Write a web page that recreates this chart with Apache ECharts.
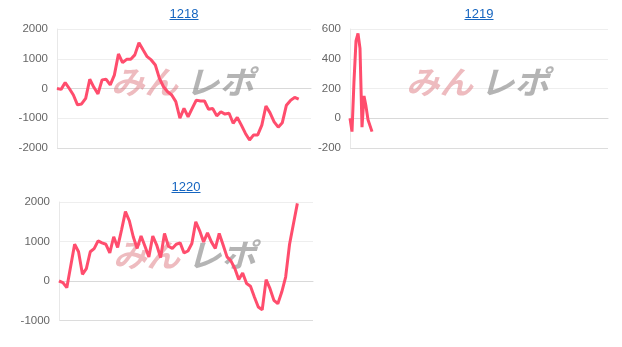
<!DOCTYPE html>
<html><head><meta charset="utf-8">
<script src="https://cdn.jsdelivr.net/npm/echarts@6/dist/echarts.min.js"></script>
<style>html,body{margin:0;padding:0;background:#fff}#c{width:622px;height:347px}</style>
</head><body><div id="c"></div>
<script>
// ---- data ----
const titles = ['1218', '1219', '1220'];
const values1218 = [0, -30, 200, 0, -220, -550, -520, -330, 310, 40, -180, 290, 310, 120, 450, 1160, 870, 980, 980, 1130,
  1540, 1300, 1070, 960, 790, 340, 60, -110, -220, -440, -1000, -670, -950, -670, -390, -420, -420, -700, -670, -920,
  -780, -860, -830, -1170, -970, -1230, -1510, -1730, -1560, -1560, -1230, -590, -820, -1120, -1300, -1150, -560, -400, -300, -360];
const values1219 = [0, -90, 250, 520, 570, 470, -60, 150, 80, -10, -20, -90];
const values1220 = [0, -40, -170, 380, 930, 740, 170, 315, 740, 820, 1015, 965, 930, 710, 1120, 850, 1290, 1755, 1525, 1120,
  825, 1140, 880, 610, 1140, 910, 595, 1205, 880, 825, 930, 965, 710, 760, 950, 1500, 1270, 990, 1220, 990,
  825, 1205, 910, 610, 510, 315, 35, 205, -65, -135, -405, -660, -730, 35, -195, -490, -575, -280, 100, 930, 1450, 1965];
const slotCounts = [63, 130, 66];           // x categories per chart
const yMins = [-2000, -200, -1000];
const yMaxs = [2000, 600, 2000];
const yIntervals = [1000, 200, 1000];
const allValues = [values1218, values1219, values1220];

// ---- layout ----
const grids = [
  {left: 57, top: 29, width: 254, height: 119},
  {left: 350, top: 29, width: 258, height: 119},
  {left: 59, top: 202, width: 254, height: 118.5}
];
const lineColor = '#ff4d6d';
const axisFont = "'Liberation Sans', Arial, sans-serif";

const chart = echarts.init(document.getElementById('c'), null, {renderer: 'canvas'});

const xAxes = [], yAxes = [], series = [], graphic = [];
grids.forEach((g, i) => {
  const cats = Array.from({length: slotCounts[i]}, (_, k) => String(k));
  xAxes.push({
    gridIndex: i, type: 'category', data: cats, boundaryGap: false,
    axisLabel: {show: false}, axisTick: {show: false},
    axisLine: {show: true, onZero: true, lineStyle: {color: '#d9d9d9', width: 1}},
    splitLine: {show: false}
  });
  yAxes.push({
    gridIndex: i, type: 'value', min: yMins[i], max: yMaxs[i], interval: yIntervals[i],
    axisLine: {show: true, lineStyle: {color: '#e8e8e8'}},
    axisTick: {show: false},
    axisLabel: {color: '#666', fontSize: 11.5, fontFamily: axisFont, margin: 9, formatter: v => String(v)},
    splitLine: {show: true, lineStyle: {color: ['#dcdcdc', '#eee', '#eee', '#eee', '#eee', '#eee', '#eee'], width: 1}}
  });
  series.push({
    type: 'line', xAxisIndex: i, yAxisIndex: i, data: allValues[i],
    symbol: 'none', smooth: false, z: 3,
    lineStyle: {color: lineColor, width: 3}
  });
  const cx = g.left + g.width / 2;
  const titleY = g.top - 15;
  graphic.push({
    type: 'text', x: cx, y: titleY, z: 10,
    style: {text: titles[i], fill: '#1565c0', font: "13px 'Liberation Sans', Arial, sans-serif",
      textAlign: 'center', textVerticalAlign: 'middle'}
  });
  graphic.push({
    type: 'line', z: 10,
    shape: {x1: cx - 14.5, y1: titleY + 5.5, x2: cx + 14.5, y2: titleY + 5.5},
    style: {stroke: '#1565c0', lineWidth: 1}
  });
  const wy = g.top + 53;
  graphic.push({
    type: 'text', x: cx - 73, y: wy, z: 1, scaleX: 1.05,
    style: {text: 'みん', fill: 'rgba(222,120,128,0.5)',
      font: "italic bold 32px 'Noto Sans CJK JP', sans-serif", textAlign: 'left', textVerticalAlign: 'middle'}
  });
  graphic.push({
    type: 'text', x: cx + 1, y: wy, z: 1, scaleX: 1.08,
    style: {text: 'レポ', fill: 'rgba(140,140,140,0.65)',
      font: "italic bold 32px 'Noto Sans CJK JP', sans-serif", textAlign: 'left', textVerticalAlign: 'middle'}
  });
});

chart.setOption({
  animation: false,
  grid: grids.map(g => Object.assign({containLabel: false}, g)),
  xAxis: xAxes,
  yAxis: yAxes,
  series: series,
  graphic: graphic
});
</script>
</body></html>
